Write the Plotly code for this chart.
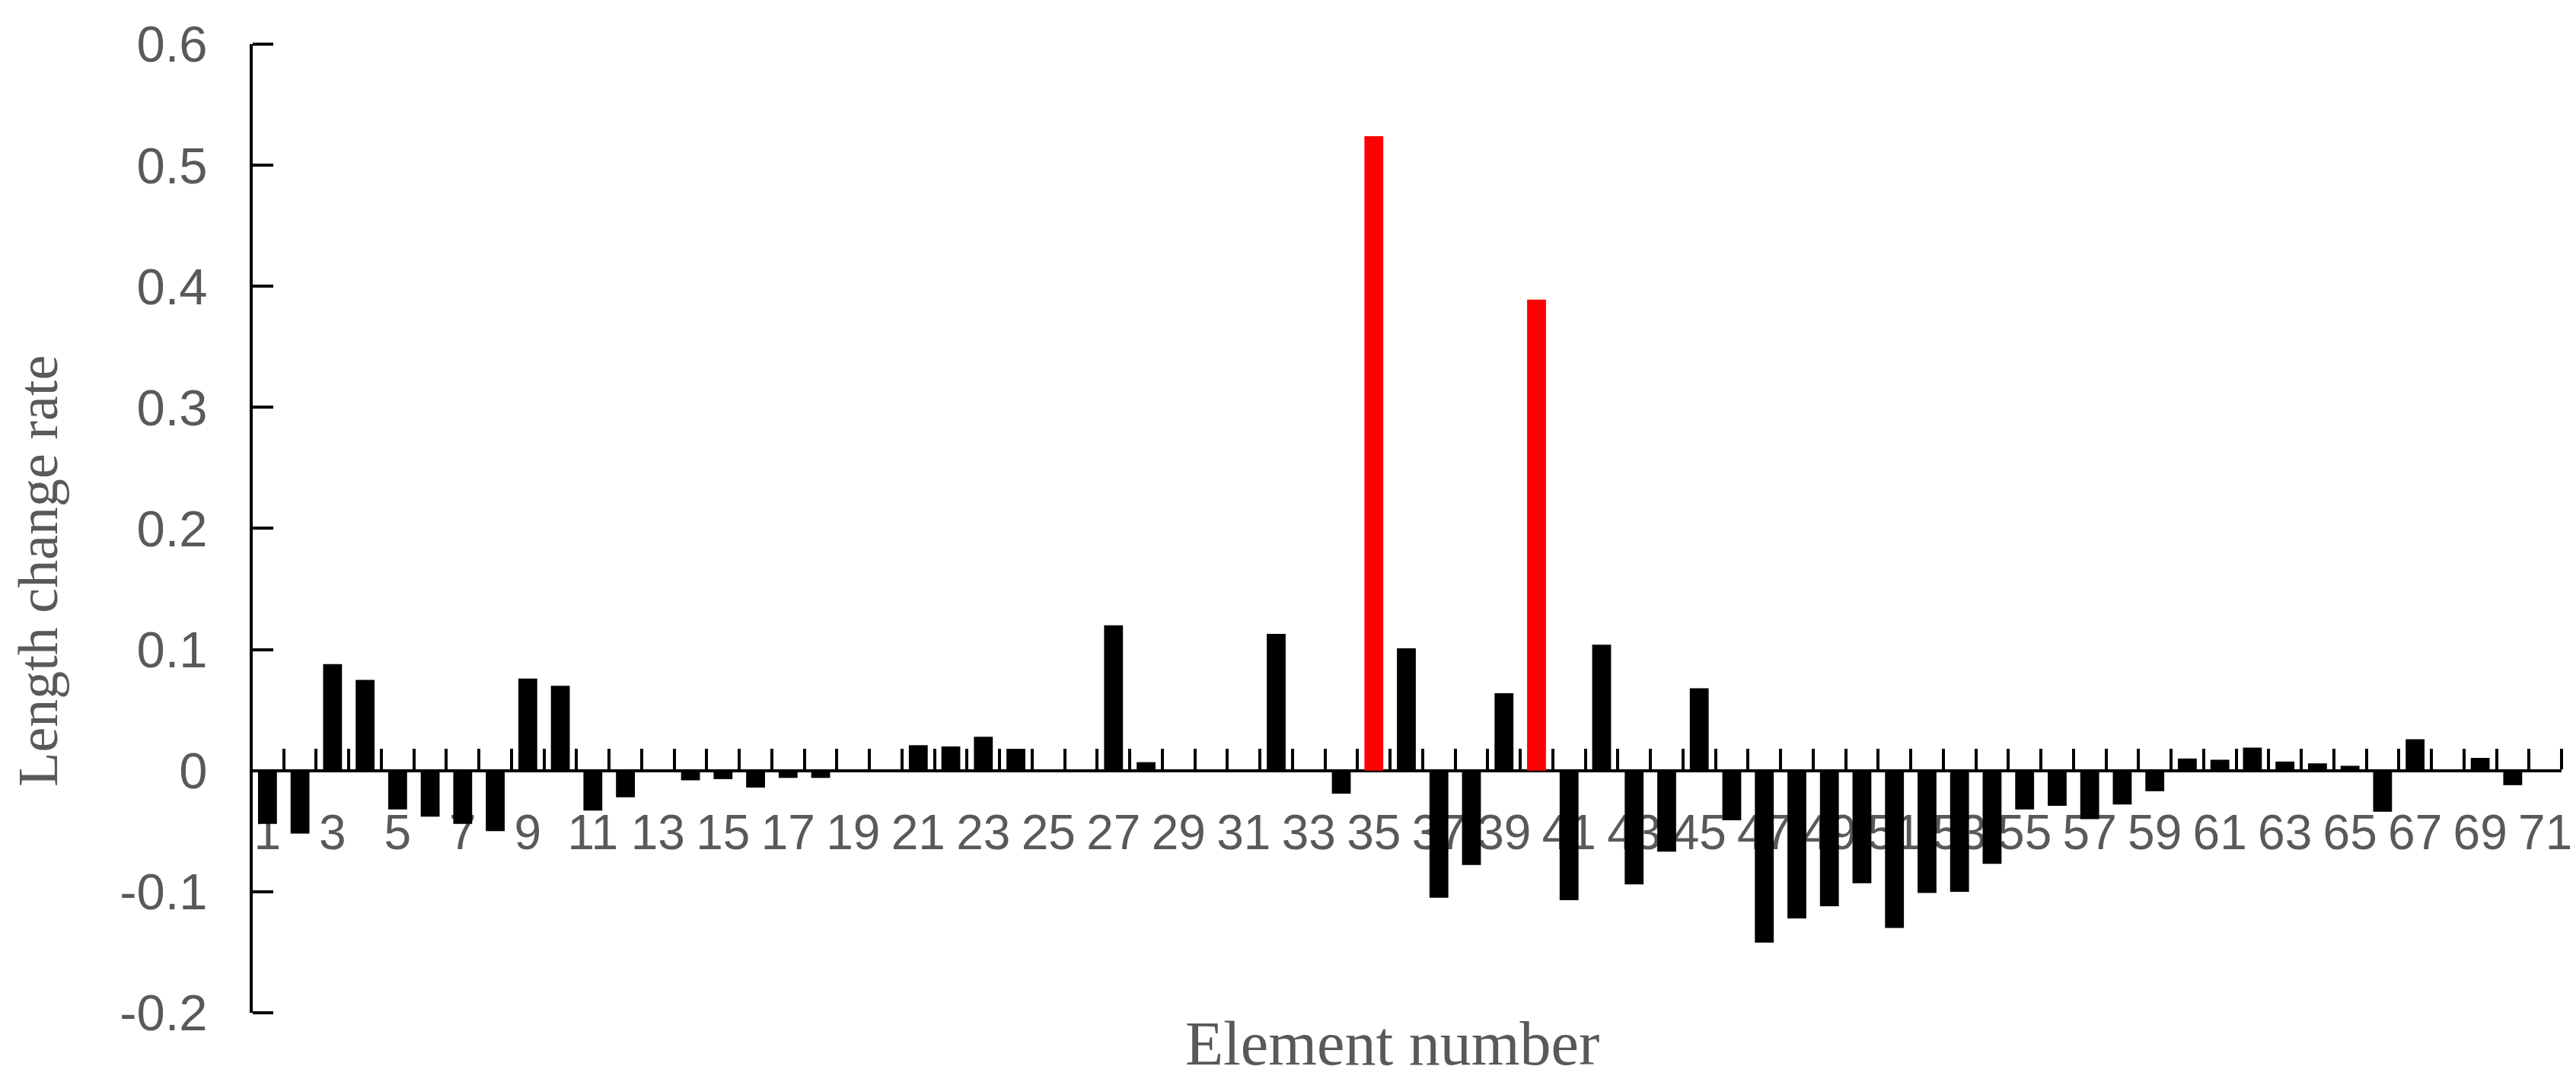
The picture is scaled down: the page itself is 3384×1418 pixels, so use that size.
import plotly.graph_objects as go

elements = list(range(1, 72))
length_change_rate = [
    -0.044, -0.052, 0.088, 0.075, -0.032, -0.038, -0.044, -0.050, 0.076, 0.070,
    -0.033, -0.022, 0.0, -0.008, -0.007, -0.014, -0.006, -0.006, 0.0, 0.0,
    0.021, 0.020, 0.028, 0.018, 0.0, 0.0, 0.120, 0.007, 0.0, 0.0,
    0.0, 0.113, 0.0, -0.019, 0.524, 0.101, -0.105, -0.078, 0.064, 0.389,
    -0.107, 0.104, -0.094, -0.067, 0.068, -0.041, -0.142, -0.122, -0.112, -0.093,
    -0.130, -0.101, -0.100, -0.077, -0.032, -0.029, -0.040, -0.028, -0.017, 0.010,
    0.009, 0.019, 0.0075, 0.006, 0.004, -0.034, 0.026, 0.0, 0.0105, -0.012,
    0.0,
]
highlighted = [35, 40]
x_tick_labels = [str(e) for e in elements if e % 2 == 1]
y_ticks = [-0.2, -0.1, 0, 0.1, 0.2, 0.3, 0.4, 0.5, 0.6]
y_tick_labels = ["-0.2", "-0.1", "0", "0.1", "0.2", "0.3", "0.4", "0.5", "0.6"]

colors = ["#FF0000" if e in highlighted else "#000000" for e in elements]

fig = go.Figure()
fig.add_trace(go.Bar(
    x=elements, y=length_change_rate,
    marker=dict(color=colors, line=dict(width=0)),
    showlegend=False,
))

y_min, y_max = -0.2, 0.6
zero_pos = (0 - y_min) / (y_max - y_min)

grey = "#595959"
fig.update_layout(
    width=3384, height=1418,
    margin=dict(l=322, r=27, t=40, b=95),
    paper_bgcolor="white", plot_bgcolor="white",
    bargap=0.42,
    xaxis=dict(
        range=[0.5, 71.5],
        anchor="free", position=zero_pos,
        tickmode="array",
        tickvals=[int(t) for t in x_tick_labels],
        ticktext=x_tick_labels,
        ticks="",
        tickfont=dict(family="Liberation Sans", size=64, color=grey),
        ticklabelstandoff=24,
        showline=True, linecolor="black", linewidth=4,
        showgrid=False, zeroline=False,
        layer="below traces",
        minor=dict(
            tickmode="array",
            tickvals=[e - 0.5 for e in elements] + [elements[-1] + 0.5],
            ticks="inside", ticklen=27, tickwidth=4, tickcolor="black",
            showgrid=False,
        ),
    ),
    yaxis=dict(
        range=[y_min, y_max],
        anchor="free", position=0,
        tickmode="array", tickvals=y_ticks, ticktext=y_tick_labels,
        ticks="",
        tickfont=dict(family="Liberation Sans", size=67, color=grey),
        ticklabelstandoff=42,
        minor=dict(
            tickmode="array",
            tickvals=[v + 1e-5 for v in y_ticks],
            ticks="inside", ticklen=27, tickwidth=4, tickcolor="black",
            showgrid=False,
        ),
        showline=True, linecolor="black", linewidth=4,
        showgrid=False, zeroline=False,
    ),
    annotations=[
        dict(text="Element number", xref="paper", yref="paper",
             x=0.494, y=-0.032, xanchor="center", yanchor="middle",
             showarrow=False,
             font=dict(family="Liberation Serif", size=82, color=grey)),
        dict(text="Length change rate", xref="paper", yref="paper",
             x=-0.0925, y=0.456, xanchor="center", yanchor="middle",
             textangle=-90, showarrow=False,
             font=dict(family="Liberation Serif", size=74, color=grey)),
    ],
)

fig.write_html("out.html")
